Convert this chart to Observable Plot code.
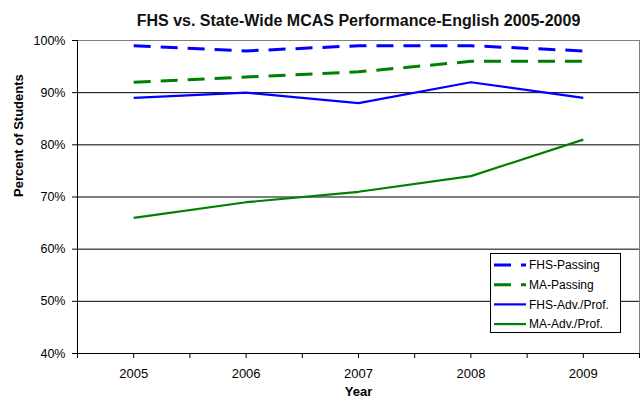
<!DOCTYPE html>
<html>
<head>
<meta charset="utf-8">
<script src="https://cdn.jsdelivr.net/npm/d3@7"></script>
<script src="https://cdn.jsdelivr.net/npm/@observablehq/plot@0.6"></script>
<style>
  html, body { margin: 0; padding: 0; background: #fff; }
  #chart svg { display: block; font-family: "Liberation Sans", Arial, sans-serif; }
</style>
</head>
<body>
<div id="chart"></div>
<script>
const title = "FHS vs. State-Wide MCAS Performance-English 2005-2009";
const years = [2005, 2006, 2007, 2008, 2009];
const fhsPassing = [99, 98, 99, 99, 98];
const maPassing = [92, 93, 94, 96, 96];
const fhsAdvProf = [89, 90, 88, 92, 89];
const maAdvProf = [66, 69, 71, 74, 81];
const yTicks = [40, 50, 60, 70, 80, 90, 100];
const seriesNames = ["FHS-Passing", "MA-Passing", "FHS-Adv./Prof.", "MA-Adv./Prof."];

const seriesValues = [fhsPassing, maPassing, fhsAdvProf, maAdvProf];
const seriesColor = ["#0000ff", "#008000", "#0000ff", "#008000"];
const seriesDash = ["17,10", "17,10", null, null];
const seriesWidth = [3, 3, 2.2, 2.2];

const rows = [];
seriesNames.forEach((name, i) => {
  years.forEach((yr, j) => rows.push({series: name, year: yr, value: seriesValues[i][j] / 100}));
});

const lineMarks = seriesNames.map((name, i) =>
  Plot.line(rows.filter(d => d.series === name), {
    x: "year", y: "value",
    stroke: seriesColor[i], strokeWidth: seriesWidth[i],
    strokeDasharray: seriesDash[i] || undefined,
    strokeLinejoin: "miter", strokeLinecap: "butt"
  })
);

// tick marks every half category (centres and boundaries)
const xTickMarks = d3.range(0, 11).map(k => years[0] - 0.5 + k * 0.5);

const chart = Plot.plot({
  width: 642, height: 404,
  marginLeft: 77, marginRight: 3, marginTop: 40, marginBottom: 51,
  style: {fontFamily: "Liberation Sans, Arial, sans-serif", fontSize: "12px", color: "#000", background: "#fff"},
  x: {type: "linear", domain: [years[0] - 0.5, years[years.length - 1] + 0.5]},
  y: {type: "linear", domain: [0.4, 1.0]},
  marks: [
    Plot.ruleY(yTicks.filter(t => t > 40 && t < 100).map(t => t / 100), {stroke: "#000", strokeWidth: 1}),
    Plot.ruleY([1.0], {stroke: "#808080", strokeWidth: 1}),
    Plot.ruleX([years[years.length - 1] + 0.5], {stroke: "#808080", strokeWidth: 1}),
    Plot.ruleY([0.4], {stroke: "#000", strokeWidth: 1}),
    Plot.ruleX([years[0] - 0.5], {stroke: "#000", strokeWidth: 1}),
    Plot.axisY({ticks: yTicks.map(t => t / 100), tickSize: 5, tickPadding: 7,
      tickFormat: d => Math.round(d * 100) + "%", label: null, stroke: "#000", fontSize: 12.5}),
    Plot.axisX({ticks: xTickMarks, tickSize: 5,
      tickFormat: () => "", label: null, stroke: "#000"}),
    Plot.axisX({ticks: years, tickSize: 0, tickPadding: 15,
      tickFormat: d => String(d), label: null, fontSize: 13}),
    ...lineMarks,
    Plot.text([title], {frameAnchor: "top", dy: -26, fontSize: 16, fontWeight: "bold", fill: "#111"}),
    Plot.text(["Year"], {frameAnchor: "bottom", dy: 42, fontSize: 13, fontWeight: "bold", fill: "#000"}),
    Plot.text(["Percent of Students"], {frameAnchor: "left", dx: -59, rotate: -90, fontSize: 13, fontWeight: "bold", fill: "#000"})
  ]
});

// legend
const svg = d3.select(chart);
const lg = svg.append("g").attr("text-anchor", "start");
lg.append("rect").attr("x", 490.5).attr("y", 253.5).attr("width", 130).attr("height", 79)
  .attr("fill", "#fff").attr("stroke", "#000").attr("stroke-width", 1);
seriesNames.forEach((name, i) => {
  const y = 265 + i * 19.7;
  lg.append("line").attr("x1", 494).attr("x2", 526).attr("y1", y).attr("y2", y)
    .attr("stroke", seriesColor[i]).attr("stroke-width", seriesWidth[i])
    .attr("stroke-dasharray", seriesDash[i]);
  lg.append("text").attr("x", 529).attr("y", y).attr("dy", "0.35em")
    .attr("text-anchor", "start")
    .attr("font-size", 12).attr("fill", "#000").text(name);
});

document.getElementById("chart").appendChild(chart);
</script>
</body>
</html>
